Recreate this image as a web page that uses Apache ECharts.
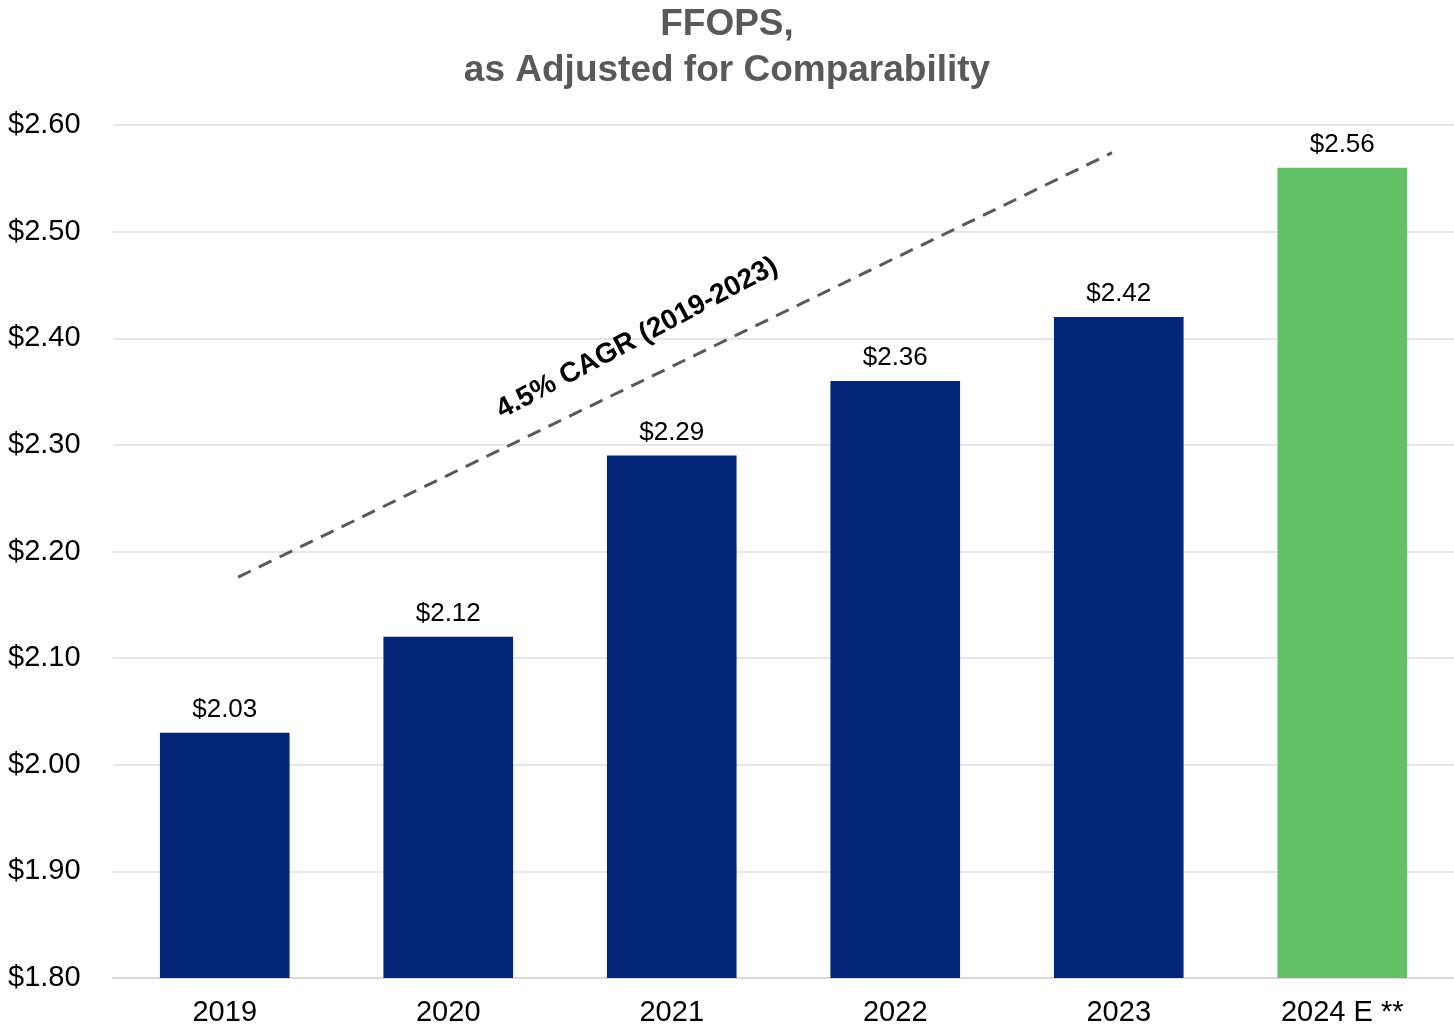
<!DOCTYPE html>
<html>
<head>
<meta charset="utf-8">
<script src="https://cdn.jsdelivr.net/npm/echarts@6/dist/echarts.min.js"></script>
<style>html,body{margin:0;padding:0;background:#fff;}#c{width:1454px;height:1031px;}</style>
</head>
<body>
<div id="c"></div>
<script>
const categories = ['2019', '2020', '2021', '2022', '2023', '2024 E **'];
const ffops = [2.03, 2.12, 2.29, 2.36, 2.42, 2.56];
const barColors = ['#03267A', '#03267A', '#03267A', '#03267A', '#03267A', '#62C166'];
const yTicks = { min: 1.8, max: 2.6, interval: 0.1 };
const trendLine = [[0.06, 2.176], [3.97, 2.574]];
const trendLabel = { text: '4.5% CAGR (2019-2023)', x: 1.845, y: 2.40 };

const chart = echarts.init(document.getElementById('c'));
const font = '"Liberation Sans", Arial, sans-serif';
chart.setOption({
  animation: false,
  title: {
    text: 'FFOPS,\nas Adjusted for Comparability',
    left: 'center',
    top: -3,
    textStyle: { fontFamily: font, fontSize: 37, fontWeight: 'bold', color: '#595959', lineHeight: 46 }
  },
  grid: { left: 113, right: 0, top: 125, bottom: 53, containLabel: false },
  xAxis: [
    {
      type: 'category',
      data: categories,
      axisLine: { show: true, lineStyle: { color: '#D9D9D9', width: 2 } },
      axisTick: { show: false },
      axisLabel: { fontFamily: font, fontSize: 29, color: '#000', margin: 20 }
    },
    {
      type: 'value', min: -0.5, max: 5.5, show: false
    }
  ],
  yAxis: {
    type: 'value',
    min: yTicks.min, max: yTicks.max, interval: yTicks.interval,
    axisLine: { show: false },
    axisTick: { show: false },
    splitLine: { lineStyle: { color: '#E6E6E6', width: 2 } },
    axisLabel: {
      fontFamily: font, fontSize: 29, color: '#000', align: 'left', margin: 105,
      formatter: v => '$' + v.toFixed(2)
    }
  },
  series: [
    {
      type: 'bar',
      xAxisIndex: 0,
      barWidth: '58%',
      data: ffops.map((v, i) => ({ value: v, itemStyle: { color: barColors[i] } })),
      label: {
        show: true, position: 'top', distance: 10,
        fontFamily: font, fontSize: 26, color: '#000',
        formatter: p => '$' + p.value.toFixed(2)
      }
    },
    {
      type: 'line',
      xAxisIndex: 1,
      data: trendLine,
      symbol: 'none',
      lineStyle: { color: '#595959', width: 3, type: [14, 9] },
      z: 5
    },
    {
      type: 'scatter',
      xAxisIndex: 1,
      symbolSize: 0,
      itemStyle: { opacity: 1 },
      data: [[trendLabel.x, trendLabel.y]],
      label: {
        show: true, position: 'inside', rotate: 28,
        formatter: trendLabel.text,
        fontFamily: font, fontSize: 28, fontWeight: 'bold', color: '#000', opacity: 1
      },
      z: 6
    }
  ]
});
</script>
</body>
</html>
